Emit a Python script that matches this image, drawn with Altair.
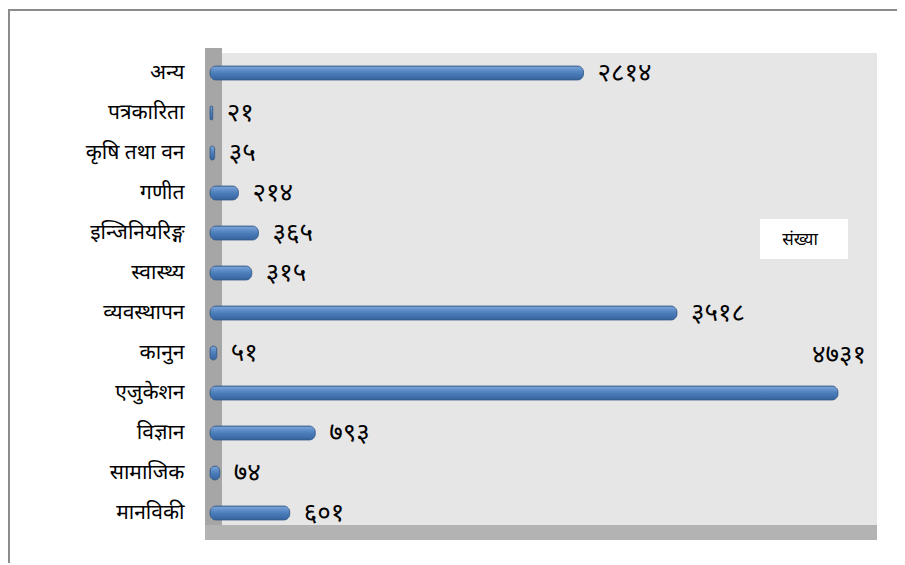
import altair as alt
import pandas as pd

categories = ["अन्य", "पत्रकारिता", "कृषि तथा वन", "गणीत", "इन्जिनियरिङ्ग", "स्वास्थ्य",
              "व्यवस्थापन", "कानुन", "एजुकेशन", "विज्ञान", "सामाजिक", "मानविकी"]
values = [2814, 21, 35, 214, 365, 315, 3518, 51, 4731, 793, 74, 601]
value_labels = ["२८१४", "२१", "३५", "२१४", "३६५", "३१५", "३५१८", "५१", "४७३१", "७९३", "७४", "६०१"]
legend_label = ["संख्या"]

df = pd.DataFrame({"cat": categories, "val": values, "lab": value_labels})

FONT = "Noto Sans"
W, H = 667, 480

y_enc = alt.Y("cat:N", sort=categories, title=None,
              scale=alt.Scale(paddingInner=0.6, paddingOuter=0.3),
              axis=alt.Axis(domain=False, ticks=False, labelFontSize=21, labelColor="#000000",
                            labelFont=FONT, labelFontWeight="normal", labelPadding=26, grid=False))
x_scale = alt.Scale(domain=[0, 5025], nice=False)
x_enc = alt.X("val:Q", scale=x_scale, axis=None)

base = alt.Chart(df)

# decorative side wall & floor
side = alt.Chart(pd.DataFrame({"k": [0]})).mark_rect(color="#a6a6a6").encode(
    x=alt.value(-5), x2=alt.value(12), y=alt.value(-5), y2=alt.value(H + 7))
floor = alt.Chart(pd.DataFrame({"k": [0]})).mark_rect(color="#b3b3b3").encode(
    x=alt.value(-5), x2=alt.value(W), y=alt.value(H - 8), y2=alt.value(H + 7))

bars = base.mark_bar(
    cornerRadius=6, height=14,
    color=alt.Gradient(gradient="linear", x1=0, x2=0, y1=0, y2=1,
                       stops=[alt.GradientStop(color="#7fa7dc", offset=0),
                              alt.GradientStop(color="#4f81bd", offset=0.45),
                              alt.GradientStop(color="#3463a0", offset=1)]),
    stroke="#385d8a", strokeWidth=0.8,
).encode(x=x_enc, y=y_enc, tooltip=["cat", "val"])

labels_normal = base.transform_filter(alt.datum.val < 4500).mark_text(
    align="left", baseline="middle", dx=14, fontSize=26, font=FONT, color="#000000",
    fontWeight="normal"
).encode(x=x_enc, y=y_enc, text="lab:N")

labels_top = base.transform_filter(alt.datum.val >= 4500).mark_text(
    align="right", baseline="middle", dx=28, dy=-38, fontSize=26, font=FONT, color="#000000",
    fontWeight="normal"
).encode(x=x_enc, y=y_enc, text="lab:N")

leg_box = alt.Chart(pd.DataFrame({"t": legend_label})).mark_rect(color="white").encode(
    x=alt.value(550), x2=alt.value(638), y=alt.value(166), y2=alt.value(206))
leg_text = alt.Chart(pd.DataFrame({"t": legend_label})).mark_text(
    fontSize=17, font=FONT, color="#000000", align="center", baseline="middle"
).encode(x=alt.value(590), y=alt.value(187), text="t:N")

frame_top = alt.Chart(pd.DataFrame({"k": [0]})).mark_rule(color="#8c8c8c", strokeWidth=2).encode(
    x=alt.value(-202), x2=alt.value(W + 40), y=alt.value(-43))
frame_left = alt.Chart(pd.DataFrame({"k": [0]})).mark_rule(color="#8c8c8c", strokeWidth=2).encode(
    x=alt.value(-201), y=alt.value(-43), y2=alt.value(H + 40))

chart = alt.layer(side, floor, bars, labels_normal, labels_top, leg_box, leg_text,
                  frame_top, frame_left).properties(
    width=W, height=H,
    autosize="none",
    padding={"left": 202, "top": 45, "right": 20, "bottom": 30},
    background="white",
).configure_view(fill="#e6e6e6", stroke=None)

chart.save("out.html", embed_options={"renderer": "svg", "actions": False})
